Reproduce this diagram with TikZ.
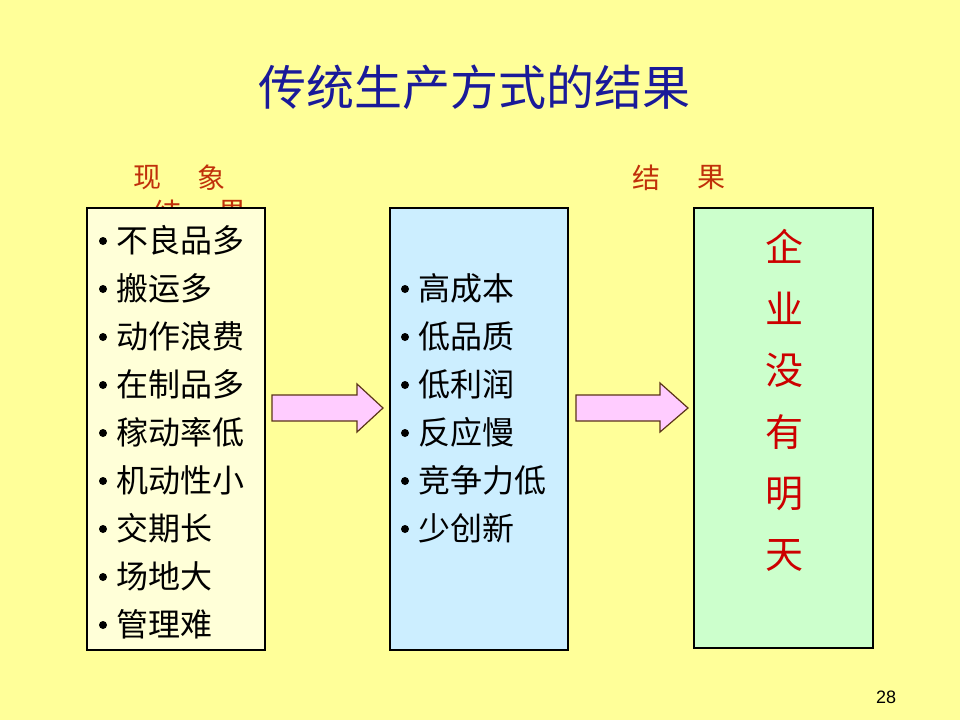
\documentclass[tikz,border=0pt]{standalone}
\usepackage{fontspec}
\newfontfamily\cjk{Noto Sans CJK SC}
\newfontfamily\numfont{Liberation Sans}
\definecolor{bgyellow}{HTML}{FFFF99}
\definecolor{titleblue}{HTML}{1A1A99}
\definecolor{labelred}{HTML}{C0300A}
\definecolor{resred}{HTML}{CC0000}
\definecolor{box1fill}{HTML}{FFFFD8}
\definecolor{box2fill}{HTML}{CCEEFF}
\definecolor{box3fill}{HTML}{CCFFCC}
\definecolor{arrowfill}{HTML}{FFCCFF}
\definecolor{arrowline}{HTML}{5A3418}
\begin{document}
\begin{tikzpicture}[x=1pt,y=-1pt,
  panel/.style={draw=black, line width=1.1pt, minimum width=178pt, minimum height=442pt, inner sep=0pt},
  item/.style={anchor=west, inner sep=0pt, font=\cjk\fontsize{32}{32}\selectfont, text=black},
  bul/.style={circle, fill=black, inner sep=0pt, minimum size=8pt},
  lbl/.style={inner sep=0pt, font=\cjk\fontsize{28}{28}\selectfont, text=labelred},
  res/.style={inner sep=0pt, font=\cjk\fontsize{38}{38}\selectfont, text=resred},
  blockarrow/.style={draw=arrowline, fill=arrowfill, line width=1.2pt, line join=miter}]
\useasboundingbox (0,0) rectangle (960,720);
\fill[bgyellow] (0,0) rectangle (960,720);

% title
\node[inner sep=0pt, font=\cjk\fontsize{48}{48}\selectfont, text=titleblue] (title) at (474,87) {传统生产方式的结果};

% labels
\node[lbl] (l1a) at (147,178) {现};
\node[lbl] (l1b) at (211,178) {象};
\node[lbl] (l2a) at (646,178) {结};
\node[lbl] (l2b) at (711,178) {果};
% partially hidden label behind first panel
\node[lbl] (l3a) at (167,213) {结};
\node[lbl] (l3b) at (232,213) {果};

% panels
\node[panel, fill=box1fill] (p1) at (176,429) {};
\node[panel, fill=box2fill] (p2) at (479,429) {};
\node[panel, fill=box3fill, minimum width=179pt, minimum height=440pt] (p3) at (783.5,428) {};

% panel 1 items
\foreach \t [count=\i] in {不良品多,搬运多,动作浪费,在制品多,稼动率低,机动性小,交期长,场地大,管理难}{
  \node[bul] (ab\i) at (103,193+48*\i) {};
  \node[item] (a\i) at (116,192+48*\i) {\t};
}
% panel 2 items
\foreach \t [count=\i] in {高成本,低品质,低利润,反应慢,竞争力低,少创新}{
  \node[bul] (bb\i) at (405,241+48*\i) {};
  \node[item] (b\i) at (418,240+48*\i) {\t};
}
% panel 3 vertical text
\foreach \t/\y [count=\i] in {企/246,业/308,没/370,有/432,明/494,天/555}{
  \node[res] (c\i) at (784,\y) {\t};
}

% block arrows
\draw[blockarrow] (272,395) -- (357,395) -- (357,384) -- (383,408) -- (357,432) -- (357,421) -- (272,421) -- cycle;
\draw[blockarrow] (576,395) -- (660,395) -- (660,383) -- (688,408) -- (660,432) -- (660,421) -- (576,421) -- cycle;

% page number
\node[inner sep=0pt, font=\numfont\fontsize{18}{18}\selectfont] (pg) at (886,697) {28};
\end{tikzpicture}
\end{document}
